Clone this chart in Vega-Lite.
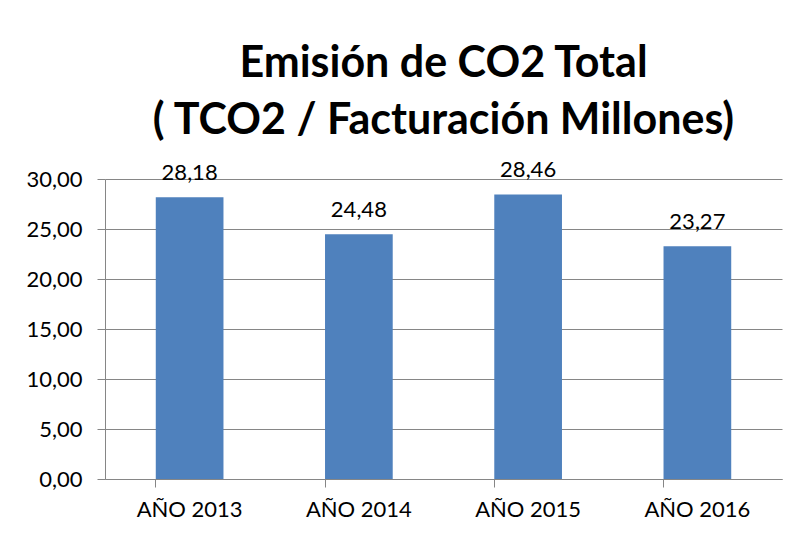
{
  "$schema": "https://vega.github.io/schema/vega-lite/v6.json",
  "autosize": "none",
  "width": 677,
  "height": 300,
  "padding": {"left": 105, "top": 179, "right": 21, "bottom": 56},
  "background": "white",
  "config": {
    "locale": {"number": {"decimal": ",", "thousands": ".", "grouping": [3], "currency": ["", " €"]}},
    "font": "Lato",
    "view": {"stroke": null}
  },
  "title": {
    "text": ["Emisión de CO2 Total", "( TCO2 / Facturación Millones)"],
    "fontSize": 43,
    "fontWeight": "bold",
    "font": "Lato",
    "color": "black",
    "lineHeight": 57,
    "anchor": "middle",
    "offset": 16
  },
  "data": {
    "values": [
      {"year": "AÑO 2013", "value": 28.18},
      {"year": "AÑO 2014", "value": 24.48},
      {"year": "AÑO 2015", "value": 28.46},
      {"year": "AÑO 2016", "value": 23.27}
    ]
  },
  "encoding": {
    "x": {
      "field": "year",
      "type": "nominal",
      "sort": null,
      "scale": {"paddingInner": 0.6, "paddingOuter": 0.3},
      "axis": {
        "title": null,
        "labelAngle": 0,
        "labelFontSize": 22,
        "labelColor": "black",
        "labelPadding": 12,
        "tickSize": 8,
        "tickColor": "#868686",
        "domainColor": "#868686",
        "bandPosition": 0,
        "grid": false
      }
    },
    "y": {
      "field": "value",
      "type": "quantitative",
      "scale": {"domain": [0, 30]},
      "axis": {
        "title": null,
        "values": [0, 5, 10, 15, 20, 25, 30],
        "format": ".2f",
        "labelFontSize": 22,
        "labelColor": "black",
        "labelPadding": 15,
        "tickSize": 8,
        "tickColor": "#868686",
        "domainColor": "#868686",
        "gridColor": "#868686",
        "grid": true
      }
    }
  },
  "layer": [
    {"mark": {"type": "bar", "color": "#4F81BD"}},
    {
      "mark": {"type": "text", "fontSize": 22, "baseline": "alphabetic", "dy": -17, "color": "black"},
      "encoding": {"text": {"field": "value", "type": "quantitative", "format": ".2f"}}
    }
  ]
}
